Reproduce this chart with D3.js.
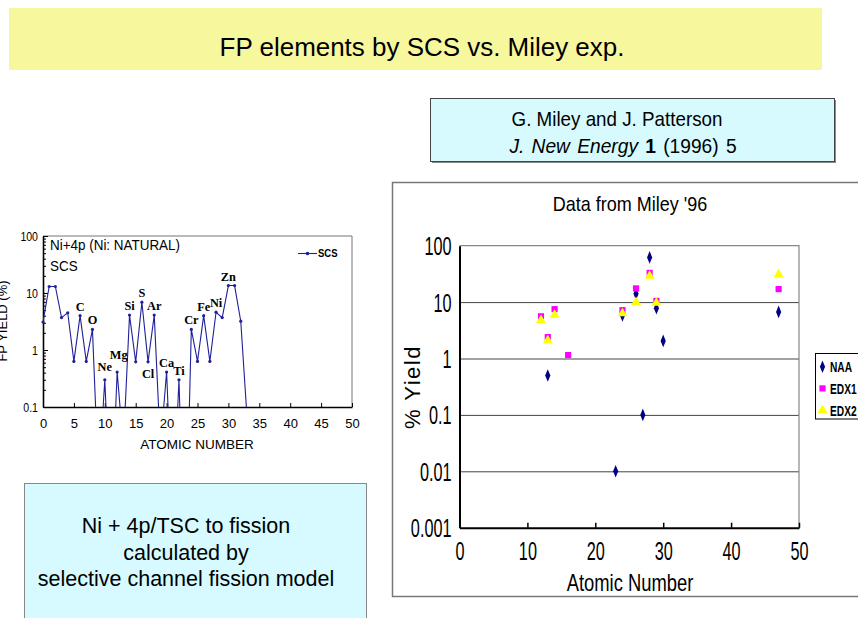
<!DOCTYPE html>
<html><head><meta charset="utf-8">
<script src="https://cdn.jsdelivr.net/npm/d3@7"></script>
<style>body{margin:0;background:#fff}svg{display:block}</style>
</head><body>
<svg id="c" width="858" height="618"></svg>
<script>
// ---------------- DATA ----------------
// Left: SCS model, Ni+4p, yield (%) by atomic number (values below 0.1 are off-scale)
const scsZ     = [0,1,2,3,4,5,6,7,8,9,10,11,12,13,14,15,16,17,18,19,20,21,22,23,24,25,26,27,28,29,30,31,32,33];
const scsYield = [3.1,13,13,3.7,4.5,0.63,4.0,0.63,2.3,0.005,0.3,0.001,0.41,0.02,4.1,0.62,6.9,0.62,4.1,0.02,0.41,0.001,0.3,0.0001,2.3,0.63,4.0,0.63,4.6,3.7,13.5,13.5,3.2,0.07];
const scsElemZ   = [6,8,10,12,14,16,17,18,20,22,24,26,28,30];
const scsElemSym = ["C","O","Ne","Mg","Si","S","Cl","Ar","Ca","Ti","Cr","Fe","Ni","Zn"];
const leftXTicks = [0,5,10,15,20,25,30,35,40,45,50];
const leftYTicks = [0.1,1,10,100];

// Right: Miley '96 data, % yield by atomic number
const naaZ  = [13,23,24,26,27,28,29,30,47];
const naaY  = [0.5,0.01,5.8,14,0.1,62,7.8,2.05,6.7];
const edx1Z = [12,13,14,16,24,26,28,29,47];
const edx1Y = [5.6,2.4,7.5,1.15,7.2,17.5,33,10.5,17];
const edx2Z = [12,13,14,24,26,28,29,47];
const edx2Y = [4.8,2.1,5.9,6.3,10,29,9.7,31];
const seriesNames = ["NAA","EDX1","EDX2"];
const rightXTicks = [0,10,20,30,40,50];
const rightYTicks = [0.001,0.01,0.1,1,10,100];

// ---------------- DRAW ----------------
const svg = d3.select("#c");
const SANS = "'Liberation Sans', Arial, Helvetica, sans-serif";

function ctext(parent, x, y, str, o) {
  const g = parent.append("g")
    .attr("transform", `translate(${x},${y})` + (o.rotate ? ` rotate(${o.rotate})` : "") + ` scale(${o.sx || 1},1)`);
  return g.append("text")
    .attr("text-anchor", o.anchor || "start")
    .attr("font-size", o.size)
    .attr("font-family", o.family || SANS)
    .attr("font-weight", o.weight || "normal")
    .attr("font-style", o.style || "normal")
    .attr("fill", o.fill || "#000")
    .text(str);
}

// Title banner
svg.append("rect").attr("x", 9).attr("y", 8).attr("width", 813).attr("height", 62).attr("fill", "#F7F79E");
ctext(svg, 422, 56, "FP elements by SCS vs. Miley exp.", {size: 26.5, anchor: "middle", sx: 0.98});

// Citation box
svg.append("rect").attr("x", 432).attr("y", 100).attr("width", 404).attr("height", 63).attr("fill", "#888");
svg.append("rect").attr("x", 430.5).attr("y", 98.5).attr("width", 404).attr("height", 63)
  .attr("fill", "#D6FAFD").attr("stroke", "#444").attr("stroke-width", 1);
ctext(svg, 617, 126, "G. Miley and J. Patterson", {size: 20, anchor: "middle", sx: 0.94});
{
  const g = svg.append("g").attr("transform", "translate(623,153) scale(0.96,1)");
  const t = g.append("text").attr("text-anchor", "middle").attr("font-size", 20)
    .attr("font-family", SANS).attr("word-spacing", 2);
  t.append("tspan").attr("font-style", "italic").text("J. New Energy ");
  t.append("tspan").attr("font-weight", "bold").text("1");
  t.append("tspan").text(" (1996) 5");
}

// Bottom-left description box
svg.append("rect").attr("x", 24.5).attr("y", 483.5).attr("width", 342).attr("height", 150)
  .attr("fill", "#D6FAFF").attr("stroke", "#888").attr("stroke-width", 1);
["Ni + 4p/TSC to fission", "calculated by", "selective channel fission model"].forEach((s, i) =>
  ctext(svg, 186, 533 + i * 26.5, s, {size: 21.5, anchor: "middle"}));

// ---------- Left chart ----------
const L = {x0: 43, x1: 352, y0: 407, y1: 236};
const xL = d3.scaleLinear().domain([0, 50]).range([L.x0, L.x1]);
const yL = d3.scaleLog().domain([0.1, 100]).range([L.y0, L.y1]);
const lg = svg.append("g");

// frame (top/right thin)
lg.append("path").attr("d", `M${L.x0},${L.y1}H${L.x1}V${L.y0}`).attr("fill", "none").attr("stroke", "#777").attr("stroke-width", 1);

// minor y ticks
const minorL = [];
[0.1, 1, 10].forEach(d => { for (let k = 2; k <= 9; k++) minorL.push(d * k); });
lg.append("g").attr("transform", `translate(${L.x0},0)`)
  .call(d3.axisLeft(yL).tickValues(minorL).tickSize(-3).tickFormat(""))
  .call(g => g.select(".domain").remove())
  .selectAll("line").attr("stroke", "#000");
// major y axis
lg.append("g").attr("transform", `translate(${L.x0},0)`)
  .call(d3.axisLeft(yL).tickValues(leftYTicks).tickSizeInner(-5).tickSizeOuter(0).tickFormat(d => String(d)))
  .call(g => g.select(".domain").attr("stroke", "#000").attr("stroke-width", 1.6))
  .call(g => g.selectAll("text").attr("x", 0).attr("dy", "0.35em")
    .attr("transform", "translate(-5,0) scale(0.88,1)")
    .attr("font-size", 12).attr("font-family", SANS).attr("fill", "#000"));
// x axis
lg.append("g").attr("transform", `translate(0,${L.y0})`)
  .call(d3.axisBottom(xL).tickValues(leftXTicks).tickSizeInner(-4).tickSizeOuter(0))
  .call(g => g.select(".domain").attr("stroke", "#000").attr("stroke-width", 1.6))
  .call(g => g.selectAll("text").attr("y", 21).attr("dy", 0)
    .attr("font-size", 13).attr("font-family", SANS).attr("fill", "#000"));

ctext(lg, 197, 449, "ATOMIC NUMBER", {size: 13.5, anchor: "middle"});
ctext(lg, 7, 321, "FP YIELD (%)", {size: 13, anchor: "middle", rotate: -90});
ctext(lg, 50, 250, "Ni+4p (Ni: NATURAL)", {size: 14, sx: 0.96});
ctext(lg, 50, 271, "SCS", {size: 14, sx: 0.96});

// SCS line
svg.append("clipPath").attr("id", "clipL").append("rect")
  .attr("x", L.x0).attr("y", L.y1).attr("width", L.x1 - L.x0).attr("height", L.y0 - L.y1);
const scs = scsZ.map((z, i) => ({z, v: scsYield[i]}));
const SCS_COL = "#20209a";
lg.append("path").datum(scs).attr("clip-path", "url(#clipL)")
  .attr("fill", "none").attr("stroke", SCS_COL).attr("stroke-width", 1.1)
  .attr("d", d3.line().x(d => xL(d.z)).y(d => yL(d.v)));
lg.selectAll("circle.scs").data(scs.filter(d => d.v >= 0.1)).join("circle")
  .attr("cx", d => xL(d.z)).attr("cy", d => yL(d.v)).attr("r", 1.6).attr("fill", SCS_COL);

// element labels
const labelBelow = {Cl: 16};
const labelUp = {Ne: -9, Mg: -13};
scsElemZ.forEach((z, i) => {
  const sym = scsElemSym[i];
  const v = scsYield[scsZ.indexOf(z)];
  const dy = labelBelow[sym] !== undefined ? labelBelow[sym] : (labelUp[sym] !== undefined ? labelUp[sym] : -5);
  ctext(lg, xL(z) + (sym === "Mg" ? 1.5 : 0), yL(v) + dy, sym,
    {size: 13, anchor: "middle", weight: "bold", sx: 0.95, family: "'Liberation Serif', 'Times New Roman', serif"});
});

// legend
lg.append("line").attr("x1", 298).attr("x2", 317).attr("y1", 253.5).attr("y2", 253.5).attr("stroke", SCS_COL).attr("stroke-width", 1.1);
lg.append("circle").attr("cx", 307.5).attr("cy", 253.5).attr("r", 1.8).attr("fill", SCS_COL);
ctext(lg, 318, 257, "SCS", {size: 10, weight: "bold", sx: 0.95});

// ---------- Right chart ----------
svg.append("rect").attr("x", 392.5).attr("y", 182.5).attr("width", 480).attr("height", 414)
  .attr("fill", "#fff").attr("stroke", "#777").attr("stroke-width", 1.5);
const R = {x0: 459.5, x1: 799, y0: 527.7, y1: 245.7};
const xR = d3.scaleLinear().domain([0, 50]).range([R.x0, R.x1]);
const yR = d3.scaleLog().domain([0.001, 100]).range([R.y0, R.y1]);
const rg = svg.append("g");

ctext(rg, 630, 211, "Data from Miley '96", {size: 20, anchor: "middle", sx: 0.9});

// gridlines
rg.append("g").attr("transform", `translate(${R.x0},0)`)
  .call(d3.axisLeft(yR).tickValues(rightYTicks.filter(d => d > 0.001 && d < 100)).tickSize(-(R.x1 - R.x0)).tickFormat(""))
  .call(g => g.select(".domain").remove())
  .selectAll("line").attr("stroke", "#444").attr("stroke-width", 1);
// top/right frame
rg.append("path").attr("d", `M${R.x0},${R.y1}H${R.x1}V${R.y0}`).attr("fill", "none").attr("stroke", "#888").attr("stroke-width", 1.2);
// y axis
rg.append("g").attr("transform", `translate(${R.x0},0)`)
  .call(d3.axisLeft(yR).tickValues(rightYTicks).tickSize(0).tickFormat(d => String(d)))
  .call(g => g.select(".domain").attr("stroke", "#000").attr("stroke-width", 2))
  .call(g => g.selectAll("text").attr("x", 0).attr("dy", "0.36em")
    .attr("transform", "translate(-8,0) scale(0.65,1)")
    .attr("font-size", 25).attr("font-family", SANS).attr("fill", "#000"));
// x axis
rg.append("g").attr("transform", `translate(0,${R.y0})`)
  .call(d3.axisBottom(xR).tickValues(rightXTicks).tickSizeInner(-5).tickSizeOuter(0))
  .call(g => g.select(".domain").attr("stroke", "#000").attr("stroke-width", 2))
  .call(g => g.selectAll("line").attr("stroke", "#000").attr("stroke-width", 1.5))
  .call(g => g.selectAll("text").attr("y", 0).attr("dy", 0)
    .attr("transform", "translate(0,32) scale(0.65,1)")
    .attr("font-size", 25).attr("font-family", SANS).attr("fill", "#000"));

ctext(rg, 630, 591, "Atomic Number", {size: 23, anchor: "middle", sx: 0.8});
ctext(rg, 420, 387, "% Yield", {size: 22, anchor: "middle", rotate: -90, sx: 1}).attr("letter-spacing", 1.5);

// markers
const COLS = {NAA: "#000080", EDX1: "#FF00FF", EDX2: "#FFFF00"};
const shapes = {NAA: d3.symbolDiamond, EDX1: d3.symbolSquare, EDX2: d3.symbolTriangle};
const sizes = {NAA: 32, EDX1: 38, EDX2: 42};
const sets = [
  {name: "NAA", z: naaZ, y: naaY},
  {name: "EDX1", z: edx1Z, y: edx1Y},
  {name: "EDX2", z: edx2Z, y: edx2Y}
];
sets.forEach(s => {
  rg.append("g").selectAll("path").data(s.z.map((z, i) => ({z, v: s.y[i]}))).join("path")
    .attr("transform", d => `translate(${xR(d.z)},${yR(d.v)})` + (s.name === "NAA" ? " scale(0.85,1.2)" : ""))
    .attr("d", d3.symbol().type(shapes[s.name]).size(sizes[s.name]))
    .attr("fill", COLS[s.name]);
});

// legend
const leg = rg.append("g");
leg.append("rect").attr("x", 815.5).attr("y", 353.5).attr("width", 60).attr("height", 65.5)
  .attr("fill", "#fff").attr("stroke", "#000").attr("stroke-width", 1);
seriesNames.forEach((n, i) => {
  const yy = 366.7 + i * 21.7;
  leg.append("path").attr("transform", `translate(822.5,${yy})` + (n === "NAA" ? " scale(0.85,1.2)" : ""))
    .attr("d", d3.symbol().type(shapes[n]).size(sizes[n])).attr("fill", COLS[n]);
  ctext(leg, 830, yy + 5.5, n, {size: 15, weight: "bold", sx: 0.68});
});
</script>
</body></html>
